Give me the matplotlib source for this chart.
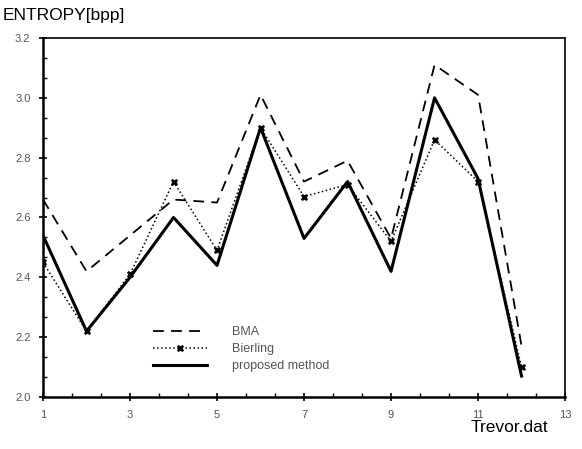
import numpy as np
import matplotlib
matplotlib.use('Agg')
import matplotlib.pyplot as plt
from matplotlib.ticker import MultipleLocator, FormatStrFormatter

# frame index of Trevor.dat
frames = [1, 2, 3, 4, 5, 6, 7, 8, 9, 10, 11, 12]
bma = [2.66, 2.42, 2.54, 2.66, 2.65, 3.01, 2.72, 2.79, 2.53, 3.11, 3.01, 2.17]
bierling = [2.45, 2.22, 2.41, 2.72, 2.49, 2.90, 2.67, 2.71, 2.52, 2.86, 2.72, 2.10]
proposed = [2.54, 2.22, 2.40, 2.60, 2.44, 2.90, 2.53, 2.72, 2.42, 3.00, 2.73, 2.07]

plt.rcParams['font.family'] = ['Liberation Sans', 'DejaVu Sans']

fig = plt.figure(figsize=(5.82, 4.49), dpi=100)
ax = fig.add_axes([0.0739, 0.1158, 0.897, 0.7996])

ax.plot(frames, bma, color='black', ls=(0, (6, 4)), lw=1.3, label='BMA')
ax.plot(frames, bierling, color='black', ls=':', lw=1.1, marker='X', markersize=5,
        markeredgewidth=0.5, label='Bierling')
ax.plot(frames, proposed, color='black', ls='-', lw=2.2, label='proposed method')

ax.set_xlim(1, 13)
ax.set_ylim(2.0, 3.2)
ax.set_xticks(np.arange(1, 14, 2))
ax.set_xticks(np.arange(1, 13.01, 2 / 3), minor=True)
ax.yaxis.set_major_locator(MultipleLocator(0.2))
ax.yaxis.set_minor_locator(MultipleLocator(0.2 / 3))
ax.tick_params(which='major', direction='inout', length=6, width=1.2,
               labelsize=8, labelcolor='#555555', pad=6)
ax.tick_params(which='minor', direction='in', length=3, width=1)
ax.yaxis.set_major_formatter(FormatStrFormatter('%.1f'))
for s in ax.spines.values():
    s.set_linewidth(1.2)
ax.spines['left'].set_linewidth(1.8)
ax.spines['bottom'].set_linewidth(1.8)

fig.text(0.005, 0.965, 'ENTROPY[bpp]', fontsize=12.5, ha='left', va='center')
fig.text(0.808, 0.048, 'Trevor.dat', fontsize=12.5, ha='left', va='center')

leg = ax.legend(loc='center left', bbox_to_anchor=(0.19, 0.133), frameon=False,
                handlelength=4.3, handletextpad=2.0, fontsize=9, labelspacing=0.4)
for t in leg.get_texts():
    t.set_color('#555555')

fig.savefig('out.png', dpi=100)
